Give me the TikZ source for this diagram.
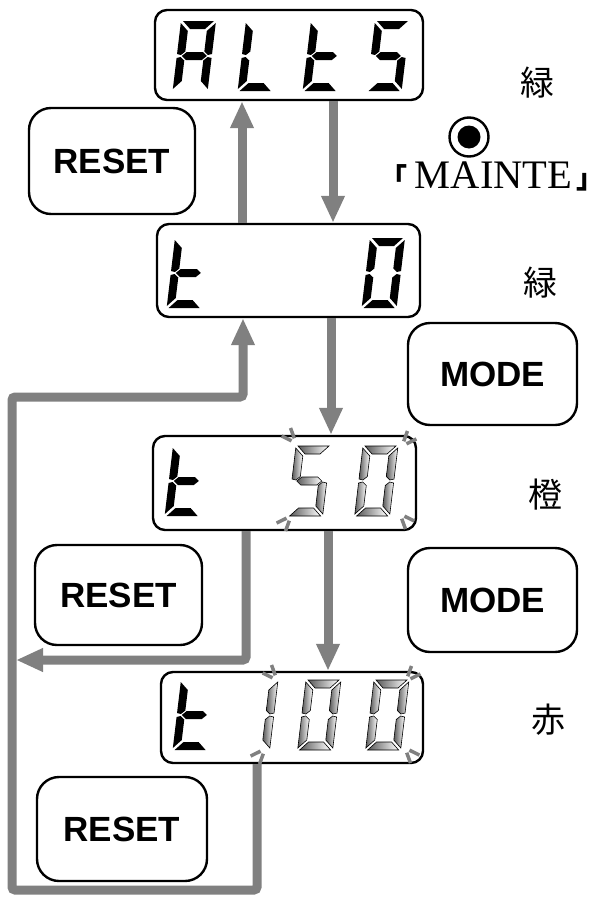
\documentclass[tikz,border=0pt]{standalone}
\usepackage{fontspec}
\setmainfont{Liberation Serif}
\newfontfamily\sansf{Liberation Sans}
\newfontfamily\cjk{Noto Sans CJK JP}
\newfontfamily\cjkp[RawFeature=+palt]{Noto Sans CJK JP}
\usetikzlibrary{arrows.meta}

\newcommand\sgA[1]{\path[#1] (2,0)--(33,0)--(25,8)--(10,8)--cycle;}
\newcommand\sgB[1]{\path[#1] (35,2)--(35,33)--(31,34)--(27,30.5)--(27,10)--cycle;}
\newcommand\sgC[1]{\path[#1] (35,37)--(35,68)--(27,60)--(27,39.5)--(31,36)--cycle;}
\newcommand\sgD[1]{\path[#1] (2,70)--(33,70)--(25,62)--(10,62)--cycle;}
\newcommand\sgE[1]{\path[#1] (0,37)--(4,36)--(8,39.5)--(8,60)--(0,68)--cycle;}
\newcommand\sgF[1]{\path[#1] (0,2)--(8,10)--(8,30.5)--(4,34)--(0,33)--cycle;}
\newcommand\sgG[1]{\path[#1] (5,35)--(9.5,31)--(25.5,31)--(30,35)--(25.5,39)--(9.5,39)--cycle;}
\newcommand\sevseg[4]{\begin{scope}[shift={(#2,#3)},xslant=0.12]\foreach \s in {#4}{\csname sg\s\endcsname{#1}}\end{scope}}
\newcommand\sparkle[3]{\draw[spark] (#1,#2) ++({#3-22}:5) -- ++({#3-22}:11); \draw[spark] (#1,#2) ++({#3+22}:5) -- ++({#3+22}:11);}

\tikzset{
  disp/.style={draw, line width=2.4pt, rounded corners=12pt, inner sep=0pt},
  btn/.style={draw, line width=2.4pt, rounded corners=22pt, inner sep=0pt, font=\sansf\bfseries\fontsize{35}{40}\selectfont},
  flow/.style={draw=gray, line width=9pt, rounded corners=3pt},
  tip/.style={-{Triangle[width=22pt,length=27pt]}},
  seg/.style={fill=black},
  bseg/.style={draw=black, line width=0.6pt, left color=black!65, right color=white},
  spark/.style={draw=black!50, line width=3.5pt},
  col/.style={font=\cjk\fontsize{34}{40}\selectfont, inner sep=0pt},
  brk/.style={font=\cjkp\bfseries\fontsize{28}{28}\selectfont, inner sep=0pt, anchor=base east},
}

\begin{document}
\begin{tikzpicture}[x=1pt,y=-1pt]
\useasboundingbox (0,0) rectangle (597,905);

% displays
\node[disp, minimum width=268pt, minimum height=90pt] (D1) at (289,55) {};
\node[disp, minimum width=263pt, minimum height=93pt] (D2) at (288.5,270.5) {};
\node[disp, minimum width=263pt, minimum height=94pt] (D3) at (284.5,483) {};
\node[disp, minimum width=262pt, minimum height=91pt] (D4) at (292,717.5) {};

% buttons
\node[btn, minimum width=166pt, minimum height=106pt] (R1) at (112,161) {RESET};
\node[btn, minimum width=167pt, minimum height=100pt] (R2) at (118.5,595) {RESET};
\node[btn, minimum width=170pt, minimum height=104pt] (R3) at (122,829) {RESET};
\node[btn, minimum width=169pt, minimum height=102pt] (M1) at (492.5,374) {MODE};
\node[btn, minimum width=169pt, minimum height=104pt] (M2) at (492.5,600) {MODE};

% colour labels
\node[col] (c1) at (537,83) {緑};
\node[col] (c2) at (540,283) {緑};
\node[col] (c3) at (545,495) {橙};
\node[col] (c4) at (548,720) {赤};

% maintenance mark
\node[circle, draw, line width=2.4pt, minimum size=39pt, inner sep=0pt] (mk) at (469,137) {};
\node[circle, fill, minimum size=23pt, inner sep=0pt] (dot) at (mk.center) {};
\node[anchor=base, font=\fontsize{40.5}{41}\selectfont, inner sep=0pt] (mt) at (493.5,188) {MAINTE};
\node[brk] (bl) at (407,188) {「};
\node[brk] (br) at (591,188) {」};

% digits
\sevseg{seg}{181}{21}{A,B,C,E,F,G}
\sevseg{seg}{246}{21}{D,E,F}
\sevseg{seg}{311}{21}{D,E,F,G}
\sevseg{seg}{375}{21}{A,C,D,F,G}

\sevseg{seg}{175}{238}{D,E,F,G}
\sevseg{seg}{370}{238}{A,B,C,D,E,F}

\sevseg{seg}{173}{446}{D,E,F,G}
\sevseg{bseg}{296}{446}{A,C,D,F,G}
\sevseg{bseg}{363}{446}{A,B,C,D,E,F}

\sevseg{seg}{181}{680}{D,E,F,G}
\sevseg{bseg}{243}{680}{B,C}
\sevseg{bseg}{306}{680}{A,B,C,D,E,F}
\sevseg{bseg}{374}{680}{A,B,C,D,E,F}

% blink marks
\sparkle{296}{443}{228}
\sparkle{402}{446}{312}
\sparkle{291}{516}{132}
\sparkle{400}{514}{48}
\sparkle{277}{680}{228}
\sparkle{406}{681}{312}
\sparkle{265}{749}{132}
\sparkle{405}{748}{48}

% connector columns
\coordinate (xa) at (242,0);
\coordinate (xb) at (333,0);
\coordinate (xc) at (331,0);
\coordinate (xd) at (328,0);
\coordinate (xe) at (246,0);
\coordinate (xf) at (257,0);
\coordinate (ret) at (16,660);
\coordinate (lb) at (12,890);
\coordinate (lt) at (243,397);

\draw[flow,tip] (D2.north -| xa) -- (D1.south -| xa);
\draw[flow,tip] (D1.south -| xb) -- (D2.north -| xb);
\draw[flow,tip] (D2.south -| xc) -- (D3.north -| xc);
\draw[flow,tip] (D3.south -| xd) -- (D4.north -| xd);
\draw[flow,tip] (D3.south -| xe) |- (ret);
\draw[flow,tip] (D4.south -| xf) |- (lb) |- (lt) -- (D2.south -| lt);
\end{tikzpicture}
\end{document}
